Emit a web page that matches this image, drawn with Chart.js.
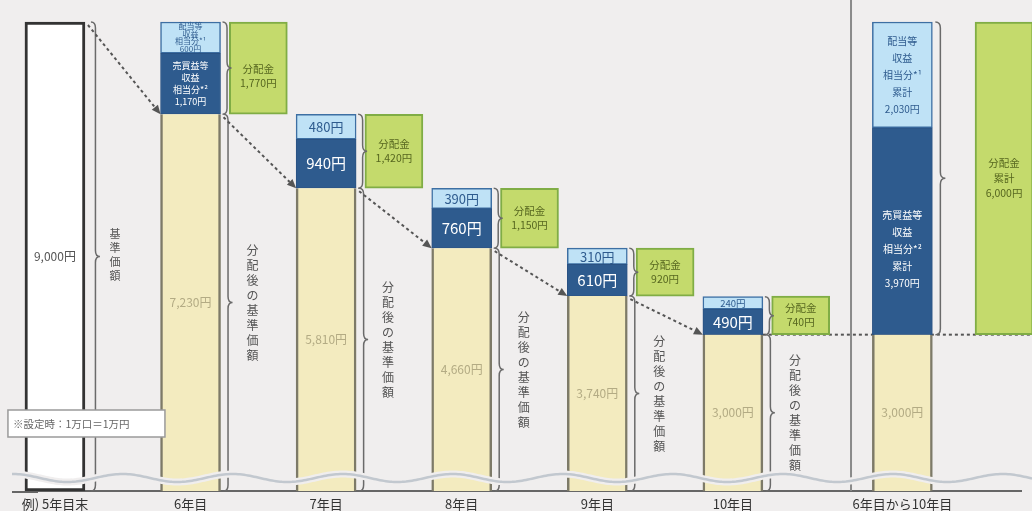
<!DOCTYPE html>
<html>
<head>
<meta charset="utf-8">
<script src="https://cdn.jsdelivr.net/npm/chart.js@4.4.0/dist/chart.umd.min.js"></script>
<style>
html, body { margin: 0; padding: 0; background: #f0eeee; }
</style>
</head>
<body>
<canvas id="c" width="1032" height="511"></canvas>
<script>
// values (yen per 10,000 units)
const years = ['例) 5年目末', '6年目', '7年目', '8年目', '9年目', '10年目'];
const navAfter = [9000, 7230, 5810, 4660, 3740, 3000];
const gainPart = [null, 1170, 940, 760, 610, 490];
const incomePart = [null, 600, 480, 390, 310, 240];
const payout = [null, 1770, 1420, 1150, 920, 740];
const totalLabel = '6年目から10年目';
const totalNav = 3000;
const totalGain = 3970;
const totalIncome = 2030;
const totalPayout = 6000;

const FONT = "'Noto Sans CJK JP', 'Noto Sans', sans-serif";
const yen = v => v.toLocaleString('en-US') + '円';

// half-width category slots: year bars every 4 slots, payout boxes between them
const N = 29;
const yearSlot = i => i * 4;
const payoutSlot = i => i * 4 + 2;
const totalSlot = 25;
const totalPayoutSlot = 28;

function slots(fill) {
    const a = new Array(N).fill(null);
    fill(a);
    return a;
}

const labels = slots(a => {
    years.forEach((y, i) => a[yearSlot(i)] = y);
    a[totalSlot] = totalLabel;
}).map(v => v || '');
const navData = slots(a => {
    navAfter.forEach((v, i) => a[yearSlot(i)] = v);
    a[totalSlot] = totalNav;
});
const gainData = slots(a => {
    gainPart.forEach((v, i) => a[yearSlot(i)] = v);
    a[totalSlot] = totalGain;
});
const incomeData = slots(a => {
    incomePart.forEach((v, i) => a[yearSlot(i)] = v);
    a[totalSlot] = totalIncome;
});
const payBaseData = slots(a => {
    payout.forEach((v, i) => { if (v) a[payoutSlot(i)] = navAfter[i]; });
    a[totalPayoutSlot] = totalNav;
});
const payData = slots(a => {
    payout.forEach((v, i) => { if (v) a[payoutSlot(i)] = v; });
    a[totalPayoutSlot] = totalPayout;
});

function bar(chart, ds, slot) {
    return chart.getDatasetMeta(ds).data[slot];
}

function brace(ctx, x, y1, y2, w) {
    const m = (y1 + y2) / 2, r = Math.min(6, (y2 - y1) / 4), h = w / 2;
    ctx.beginPath();
    ctx.moveTo(x, y1);
    ctx.quadraticCurveTo(x + h, y1, x + h, y1 + r);
    ctx.lineTo(x + h, m - r);
    ctx.quadraticCurveTo(x + h, m, x + w, m);
    ctx.quadraticCurveTo(x + h, m, x + h, m + r);
    ctx.lineTo(x + h, y2 - r);
    ctx.quadraticCurveTo(x + h, y2, x, y2);
    ctx.stroke();
}

function lines(ctx, arr, x, yc, lh) {
    arr.forEach((t, k) => ctx.fillText(t, x, yc + (k - (arr.length - 1) / 2) * lh));
}

function arrow(ctx, x1, y1, x2, y2) {
    const a = Math.atan2(y2 - y1, x2 - x1), L = 9;
    const bx = x2 - L * Math.cos(a), by = y2 - L * Math.sin(a);
    ctx.save();
    ctx.strokeStyle = '#555';
    ctx.fillStyle = '#555';
    ctx.lineWidth = 2;
    ctx.setLineDash([3, 3]);
    ctx.beginPath();
    ctx.moveTo(x1, y1);
    ctx.lineTo(bx, by);
    ctx.stroke();
    ctx.setLineDash([]);
    ctx.beginPath();
    ctx.moveTo(x2, y2);
    ctx.lineTo(bx + 4 * Math.sin(a), by - 4 * Math.cos(a));
    ctx.lineTo(bx - 4 * Math.sin(a), by + 4 * Math.cos(a));
    ctx.fill();
    ctx.restore();
}

const marks = {
    id: 'marks',
    beforeDatasetsDraw(chart) {
        const ctx = chart.ctx, area = chart.chartArea;
        ctx.save();
        // axis line continues left of the plot area
        ctx.strokeStyle = '#666';
        ctx.lineWidth = 2;
        ctx.beginPath();
        ctx.moveTo(12, area.bottom + 1);
        ctx.lineTo(area.left, area.bottom + 1);
        ctx.stroke();
        // divider between yearly bars and the cumulative bar
        const g = bar(chart, 4, payoutSlot(5)), t = bar(chart, 0, totalSlot);
        const dx = (g.x + g.width / 2 + t.x - t.width / 2) / 2;
        ctx.strokeStyle = '#8a8a8a';
        ctx.beginPath();
        ctx.moveTo(dx, 0);
        ctx.lineTo(dx, area.bottom);
        ctx.stroke();
        // dashed level of the final nav
        const last = bar(chart, 0, yearSlot(5));
        ctx.strokeStyle = '#555';
        ctx.setLineDash([3, 3]);
        ctx.beginPath();
        ctx.moveTo(last.x + last.width / 2, last.y);
        ctx.lineTo(chart.width, last.y);
        ctx.stroke();
        ctx.restore();
    },
    afterDatasetsDraw(chart) {
        const ctx = chart.ctx, area = chart.chartArea;
        ctx.save();
        ctx.textAlign = 'center';
        ctx.textBaseline = 'middle';

        years.forEach((label, i) => {
            const s = yearSlot(i);
            const nav = bar(chart, 0, s);
            const left = nav.x - nav.width / 2, right = nav.x + nav.width / 2;
            const mid = (nav.y + nav.base) / 2;
            ctx.fillStyle = i === 0 ? '#555' : '#b3ab84';
            ctx.font = `12px ${FONT}`;
            ctx.fillText(yen(navAfter[i]), nav.x, mid);
            ctx.strokeStyle = '#6a6a6a';
            ctx.lineWidth = 1.5;
            if (i === 0) {
                brace(ctx, right + 6, nav.y, nav.base, 9);
                ctx.fillStyle = '#555';
                ctx.font = `11px ${FONT}`;
                lines(ctx, [...'基準価額'], right + 30, mid - 2, 14);
                return;
            }
            const gain = bar(chart, 1, s), inc = bar(chart, 2, s), pay = bar(chart, 4, payoutSlot(i));
            brace(ctx, right + 2, inc.y, gain.base, 9);
            brace(ctx, right + 3, nav.y, nav.base, 9);
            ctx.fillStyle = '#555';
            ctx.font = `12px ${FONT}`;
            lines(ctx, [...'分配後の基準価額'], right + 32, mid, 15);

            const hi = inc.base - inc.y;
            if (i === 1) {
                ctx.fillStyle = '#2e5b8e';
                ctx.font = `8px ${FONT}`;
                lines(ctx, ['配当等', '収益', '相当分*¹', yen(incomePart[i])], nav.x, (inc.y + inc.base) / 2, 7.6);
                ctx.fillStyle = '#fff';
                ctx.font = `9px ${FONT}`;
                lines(ctx, ['売買益等', '収益', '相当分*²', yen(gainPart[i])], nav.x, (gain.y + gain.base) / 2, 12);
            } else {
                ctx.fillStyle = '#2e5b8e';
                ctx.font = `${Math.min(13, hi - 3)}px ${FONT}`;
                ctx.fillText(yen(incomePart[i]), nav.x, (inc.y + inc.base) / 2 + 0.5);
                ctx.fillStyle = '#fff';
                ctx.font = `15px ${FONT}`;
                ctx.fillText(yen(gainPart[i]), nav.x, (gain.y + gain.base) / 2);
            }
            ctx.fillStyle = '#56661f';
            ctx.font = `10.5px ${FONT}`;
            lines(ctx, ['分配金', yen(payout[i])], pay.x, (pay.y + pay.base) / 2 + (i === 1 ? 8 : 0), 14);

            const prev = bar(chart, 0, yearSlot(i - 1));
            arrow(ctx, prev.x + prev.width / 2 + 3, prev.y + 3, left, nav.y);
        });

        // cumulative bar
        const tn = bar(chart, 0, totalSlot), tg = bar(chart, 1, totalSlot), ti = bar(chart, 2, totalSlot);
        const tp = bar(chart, 4, totalPayoutSlot);
        ctx.fillStyle = '#b3ab84';
        ctx.font = `12px ${FONT}`;
        ctx.fillText(yen(totalNav), tn.x, (tn.y + tn.base) / 2);
        ctx.strokeStyle = '#6a6a6a';
        ctx.lineWidth = 1.5;
        brace(ctx, tn.x + tn.width / 2 + 3, ti.y, tg.base, 10);
        ctx.font = `10px ${FONT}`;
        ctx.fillStyle = '#2e5b8e';
        lines(ctx, ['配当等', '収益', '相当分*¹', '累計', yen(totalIncome)], ti.x, (ti.y + ti.base) / 2, 17);
        ctx.fillStyle = '#fff';
        lines(ctx, ['売買益等', '収益', '相当分*²', '累計', yen(totalGain)], tg.x, (tg.y + tg.base) / 2 + 18, 17);
        ctx.fillStyle = '#56661f';
        ctx.font = `10.5px ${FONT}`;
        lines(ctx, ['分配金', '累計', yen(totalPayout)], tp.x, (tp.y + tp.base) / 2, 15);

        // axis break wave
        const wy = area.bottom - 13;
        ctx.beginPath();
        for (let x = 12; x <= chart.width; x += 2) {
            const y = wy + 4 * Math.sin((x - 40) / 110 * 2 * Math.PI);
            if (x === 12) ctx.moveTo(x, y); else ctx.lineTo(x, y);
        }
        ctx.strokeStyle = '#f0eeee';
        ctx.lineWidth = 7;
        ctx.stroke();
        ctx.strokeStyle = '#c2c8cf';
        ctx.lineWidth = 2.5;
        ctx.stroke();

        // note box
        const b0 = bar(chart, 0, 0);
        const nx = b0.x - 47, ny = area.bottom - 81;
        ctx.fillStyle = '#fff';
        ctx.fillRect(nx, ny, 157, 27);
        ctx.strokeStyle = '#9a9a9a';
        ctx.lineWidth = 1.5;
        ctx.strokeRect(nx, ny, 157, 27);
        ctx.fillStyle = '#666';
        ctx.font = `10.5px ${FONT}`;
        ctx.textAlign = 'left';
        ctx.fillText('※設定時：1万口＝1万円', nx + 5, ny + 14);
        ctx.restore();
    }
};

new Chart('c', {
    type: 'bar',
    data: {
        labels: labels,
        datasets: [
            {
                label: '基準価額',
                data: navData,
                barThickness: 60,
                clip: false,
                backgroundColor: c => c.dataIndex === 0 ? '#ffffff' : '#f3ebbf',
                borderColor: c => c.dataIndex === 0 ? '#333' : '#7d7a68',
                borderWidth: c => c.dataIndex === 0 ? 3 : {left: 2.5, right: 2.5, top: 0, bottom: 0},
                borderSkipped: false,
            },
            {
                label: '売買益等収益相当分',
                data: gainData,
                barThickness: 60,
                clip: false,
                backgroundColor: '#2e5b8e',
                borderColor: '#2a5283',
                borderWidth: 1,
                borderSkipped: false,
            },
            {
                label: '配当等収益相当分',
                data: incomeData,
                barThickness: 60,
                clip: false,
                backgroundColor: '#bfe2f6',
                borderColor: '#3d6fa3',
                borderWidth: 1.5,
                borderSkipped: false,
            },
            {
                label: 'base',
                data: payBaseData,
                barThickness: 58,
                backgroundColor: 'rgba(0,0,0,0)',
            },
            {
                label: '分配金',
                data: payData,
                barThickness: 58,
                clip: false,
                backgroundColor: '#c4da6c',
                borderColor: '#80ad45',
                borderWidth: 2,
                borderSkipped: false,
            }
        ]
    },
    options: {
        responsive: false,
        animation: false,
        layout: {padding: {left: 38, right: 11, top: 22, bottom: 0}},
        plugins: {legend: {display: false}, tooltip: {enabled: false}},
        scales: {
            x: {
                stacked: true,
                grid: {display: false, drawTicks: false},
                border: {color: '#666', width: 2},
                ticks: {autoSkip: false, maxRotation: 0, color: '#333', padding: 5, font: {size: 13, family: FONT}},
                afterFit(scale) { scale.height = 20; }
            },
            y: {stacked: true, display: false, min: 0, max: 9000}
        }
    },
    plugins: [marks]
});
</script>
</body>
</html>
